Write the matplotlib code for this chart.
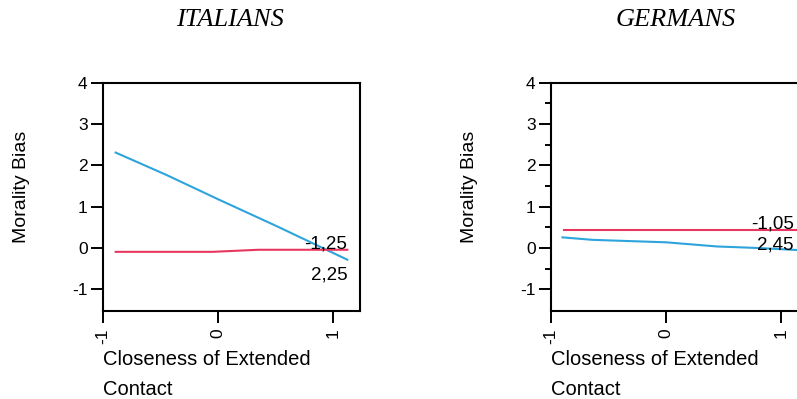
import matplotlib
matplotlib.use("Agg")
import matplotlib.pyplot as plt

plt.rcParams['font.family'] = ['Liberation Sans', 'DejaVu Sans']
plt.rcParams['axes.unicode_minus'] = False

# simple slopes: morality bias vs closeness of extended contact
panel_titles = ["ITALIANS", "GERMANS"]

it_x_low = [-0.89, -0.45, -0.05, 0.35, 1.12]
it_y_low = [-0.09, -0.09, -0.09, -0.04, -0.04]
it_x_high = [-0.89, -0.45, 0.0, 0.5, 1.12]
it_y_high = [2.31, 1.77, 1.18, 0.54, -0.28]
it_labels = ["-1,25", "2,25"]

de_x_low = [-0.89, 1.16]
de_y_low = [0.44, 0.44]
de_x_high = [-0.90, -0.64, 0.0, 0.44, 0.82, 1.16]
de_y_high = [0.26, 0.20, 0.14, 0.04, 0.0, -0.05]
de_labels = ["-1,05", "2,45"]

x_ticks = [-1, 0, 1]
y_ticks = [-1, 0, 1, 2, 3, 4]

RED = '#e8375f'
BLUE = '#2ea4dc'

fig = plt.figure(figsize=(7.97, 3.99), dpi=100)

ax_it = fig.add_axes([0.1292, 0.2206, 0.3225, 0.5722])
ax_de = fig.add_axes([0.6913, 0.2206, 0.3225, 0.5722])


def style_axis(ax, minor):
    ax.set_xlim(-1.0, 1.23)
    ax.set_ylim(-1.52, 4.0)
    ax.set_xticks(x_ticks)
    ax.set_xticklabels([str(t) for t in x_ticks], rotation=90)
    ax.set_yticks(y_ticks)
    if minor:
        ax.set_yticks([-0.5, 0.5, 1.5, 2.5, 3.5], minor=True)
    for s in ax.spines.values():
        s.set_linewidth(1.5)
    ax.tick_params(axis='both', which='major', length=8.5, width=1.4,
                   labelsize=12.5, pad=2.5)
    ax.tick_params(axis='y', which='minor', length=4.3, width=1.4)
    ax.tick_params(axis='x', pad=4)
    ax.set_xlabel("Closeness of Extended\nContact", loc='left',
                  fontsize=14.5, linespacing=1.7)
    ax.xaxis.set_label_coords(0.0, -0.172)


ax_it.plot(it_x_high, it_y_high, color=BLUE, lw=1.5)
ax_it.plot(it_x_low, it_y_low, color=RED, lw=1.5)
ax_it.text(1.12, 0.10, it_labels[0], ha='right', va='center', fontsize=13.5)
ax_it.text(1.12, -0.66, it_labels[1], ha='right', va='center', fontsize=13.5)
style_axis(ax_it, minor=False)

ax_de.plot(de_x_high, de_y_high, color=BLUE, lw=1.5)
ax_de.plot(de_x_low, de_y_low, color=RED, lw=1.5)
ax_de.text(1.105, 0.58, de_labels[0], ha='right', va='center', fontsize=13.5)
ax_de.text(1.105, 0.07, de_labels[1], ha='right', va='center', fontsize=13.5)
style_axis(ax_de, minor=True)

# y labels and panel titles in figure coordinates
for xc in (22 / 797, 470 / 797):
    fig.text(xc, 1 - 186.5 / 399, "Morality Bias", rotation=90,
             ha='center', va='center', fontsize=14)

for xc, title in zip((230.5 / 797, 675.5 / 797), panel_titles):
    fig.text(xc, 1 - 20.5 / 399, title, ha='center', va='center',
             fontsize=19, style='italic',
             family=['Liberation Serif', 'DejaVu Serif'])

fig.savefig("out.png", dpi=100)
